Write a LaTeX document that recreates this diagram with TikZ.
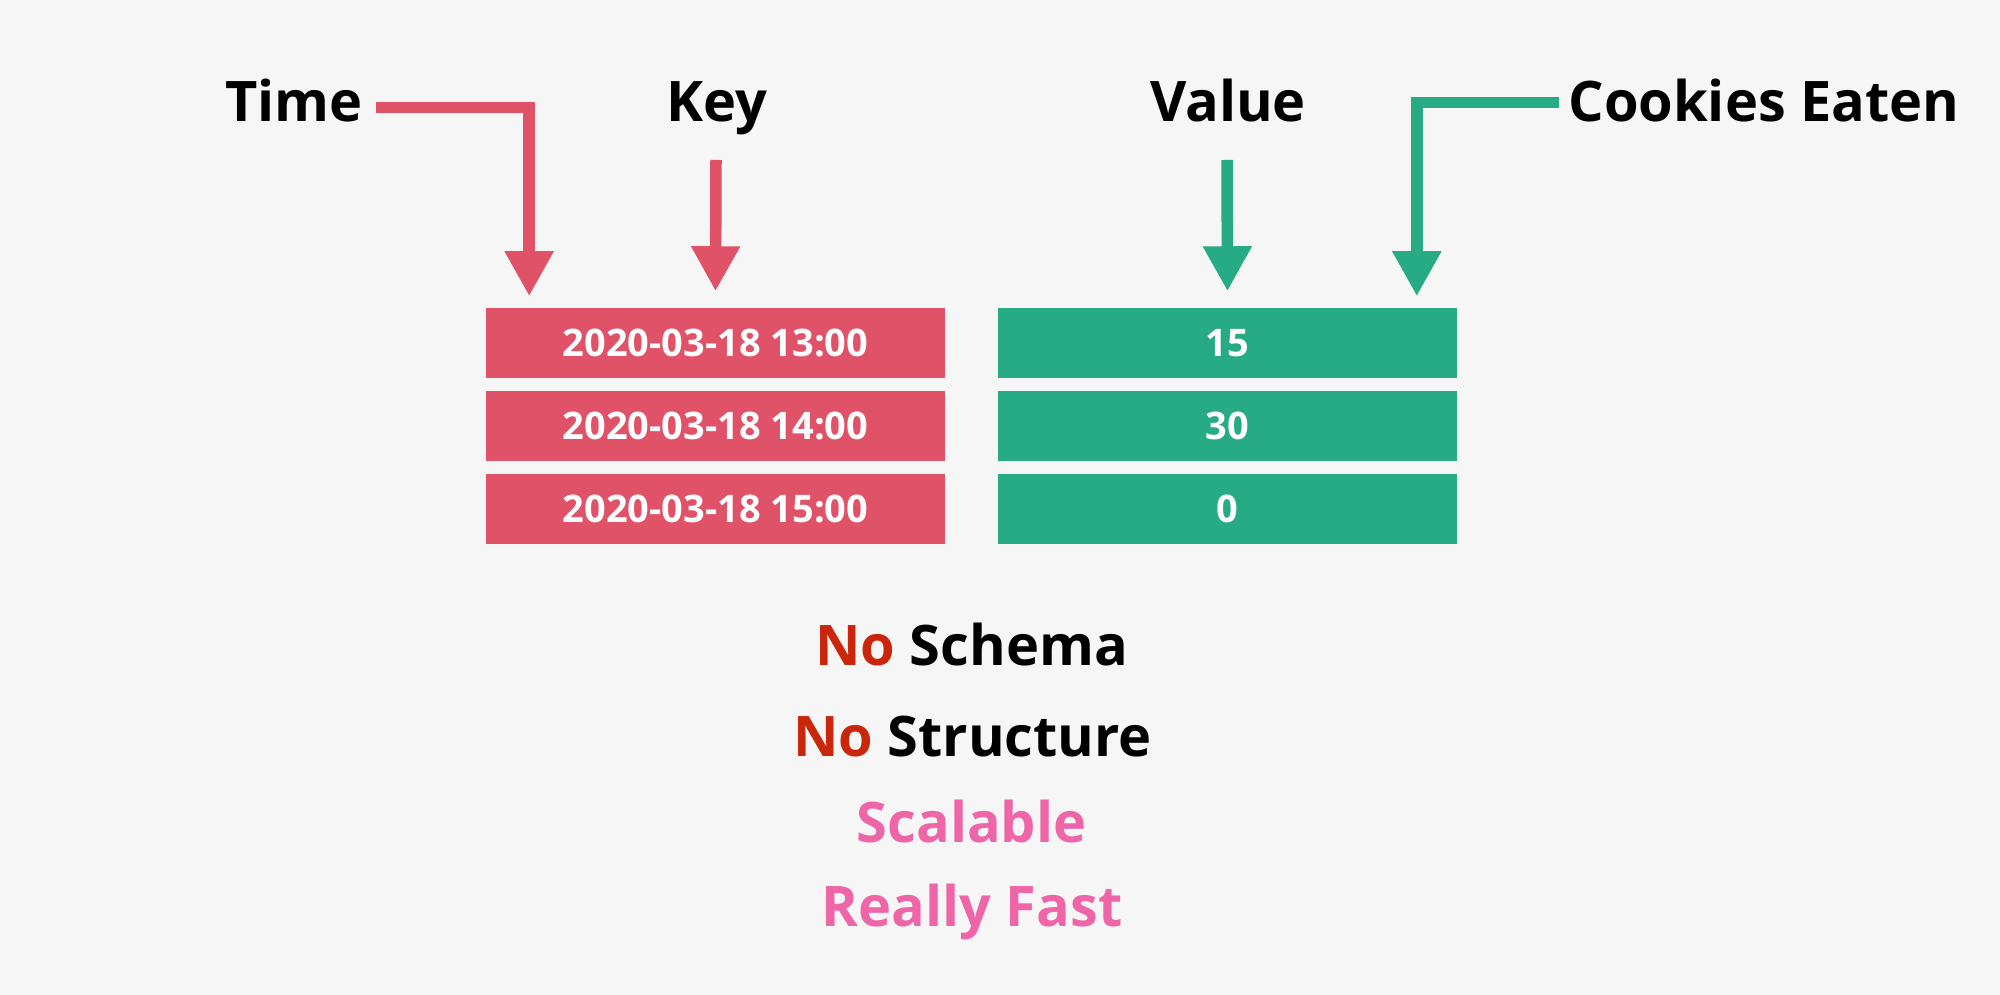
\documentclass[tikz,border=0pt]{standalone}
\usepackage{fontspec}
\setmainfont{Open Sans}
\usetikzlibrary{arrows.meta}
\definecolor{bg}{HTML}{F6F6F6}
\definecolor{keyred}{HTML}{E05267}
\definecolor{valgreen}{HTML}{27AB84}
\definecolor{nored}{HTML}{C9260C}
\definecolor{goodpink}{HTML}{EE65A8}
\tikzset{
  lbl/.style={anchor=base,inner sep=0pt,font=\fontsize{15.9pt}{19pt}\selectfont\bfseries},
  cell/.style={minimum width=4.59cm,minimum height=0.70cm,inner sep=0pt,text=white,
    font=\fontsize{10.8pt}{13pt}\selectfont\bfseries},
  redarr/.style={keyred,line width=0.115cm,line join=miter,-{Triangle[length=0.45cm,width=0.46cm]}},
  greenarr/.style={redarr,valgreen}
}
\begin{document}
\begin{tikzpicture}[x=0.01cm,y=-0.01cm]
\fill[bg] (0,0) rectangle (2000,995);
\useasboundingbox (0,0) rectangle (2000,995);
\node[lbl] (time) at (294,122) {Time};
\node[lbl] (key) at (717,122) {Key};
\node[lbl] (value) at (1228,122) {Value};
\node[lbl] (cookies) at (1764,122) {Cookies Eaten};
\foreach \t/\v [count=\i] in {13:00/15,14:00/30,15:00/0} {
  \node[cell,fill=keyred] (r\i) at (715.5,{343+83*(\i-1)}) {2020-03-18 \t};
  \node[cell,fill=valgreen] (g\i) at (1227.5,{343+83*(\i-1)}) {\v};
}
\coordinate (tstart) at (376,107.5);
\coordinate (kstart) at (716,160);
\coordinate (vstart) at (1227,160);
\coordinate (cstart) at (1559,102.5);
\draw[redarr] (tstart) -| ([xshift=0.44cm,yshift=0.11cm]r1.north west);
\draw[redarr] (kstart) -- ([yshift=0.16cm]r1.north);
\draw[greenarr] (vstart) -- ([yshift=0.16cm]g1.north);
\draw[greenarr] (cstart) -| ([xshift=-0.41cm,yshift=0.11cm]g1.north east);
\node[lbl] (schema) at (971.5,666) {\textcolor{nored}{No} Schema};
\node[lbl] (structure) at (972.5,757) {\textcolor{nored}{No} Structure};
\node[lbl,text=goodpink] (scalable) at (971.5,843) {Scalable};
\node[lbl,text=goodpink] (fast) at (972,926) {Really Fast};
\end{tikzpicture}
\end{document}
